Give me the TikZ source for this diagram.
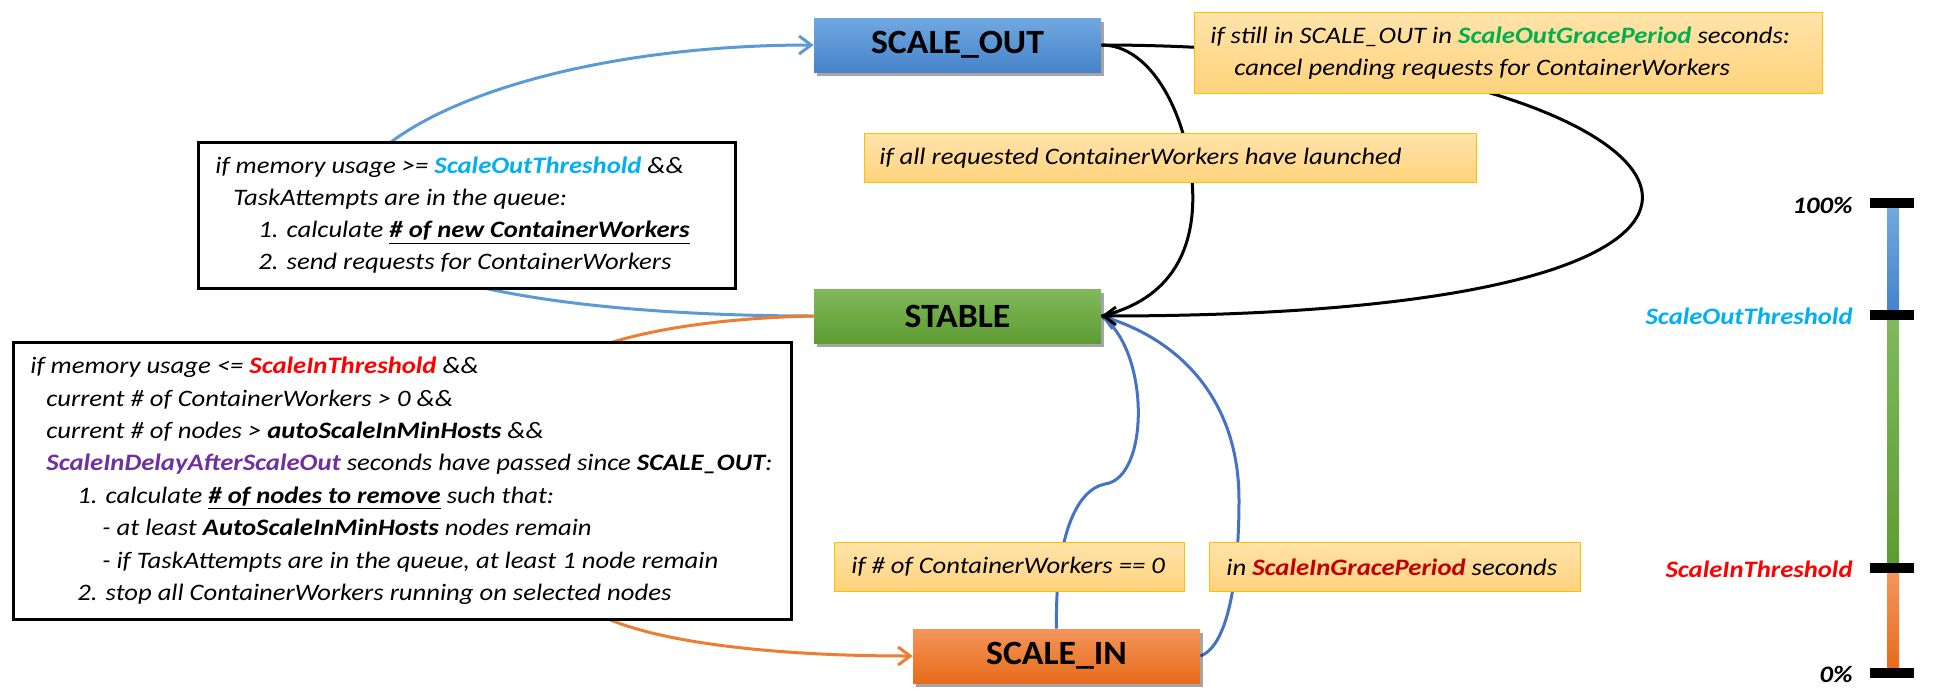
\documentclass[tikz,border=0pt]{standalone}
\usepackage{fontspec}
\setmainfont{Carlito}[FakeStretch=1.13]
\newfontfamily\statefont{Carlito}[FakeStretch=1.05]
\usetikzlibrary{arrows.meta,shadows,backgrounds}
\definecolor{soTop}{HTML}{70A8E0}
\definecolor{soBot}{HTML}{4683CA}
\definecolor{stTop}{HTML}{80B85B}
\definecolor{stBot}{HTML}{5E9C33}
\definecolor{siTop}{HTML}{F4955A}
\definecolor{siBot}{HTML}{E66C1A}
\definecolor{noteTop}{HTML}{FFE3AA}
\definecolor{noteBot}{HTML}{FFD37C}
\definecolor{noteLine}{HTML}{FFC000}
\definecolor{blueA}{HTML}{5B9BD5}
\definecolor{blueB}{HTML}{4472C4}
\definecolor{orangeC}{HTML}{ED7D31}
\definecolor{cOut}{HTML}{00B0F0}
\definecolor{cIn}{HTML}{FF0000}
\definecolor{cDelay}{HTML}{7030A0}
\definecolor{cGrace}{HTML}{00B050}
\definecolor{cGraceIn}{HTML}{C00000}
\begin{document}
\begin{tikzpicture}[x=0.5pt,y=-0.5pt,
  stbox/.style={minimum width=143.5pt,minimum height=27pt,inner sep=0pt,
    font=\statefont\fontsize{17}{20}\selectfont\bfseries,
    drop shadow={shadow xshift=1.5pt,shadow yshift=-2pt,opacity=0.35,fill=black}},
  condbox/.style={draw=black,line width=1.3pt,fill=white,anchor=north west,inner sep=0pt},
  notebox/.style={draw=noteLine,line width=0.6pt,top color=noteTop,bottom color=noteBot,anchor=north west,inner sep=0pt},
  txt/.style={font=\fontsize{11.8}{16}\selectfont\itshape,align=left,anchor=west,inner sep=0pt},
  lbl/.style={font=\fontsize{11.8}{14}\selectfont\bfseries\itshape,anchor=base east,inner sep=0pt},
  line/.style={line width=1.5pt},
  conn/.style={line width=1.5pt,-{Straight Barb[length=6pt,width=9pt]}},
]
\useasboundingbox (0,0) rectangle (1934,697);

% state boxes
\node[stbox,top color=soTop,bottom color=soBot] (so) at (957.5,45) {SCALE\_OUT};
\node[stbox,top color=stTop,bottom color=stBot] (st) at (957.5,316) {STABLE};
\node[stbox,top color=siTop,bottom color=siBot] (si) at (1056.5,656) {SCALE\_IN};

% condition boxes
\node[condbox,minimum width=268.5pt,minimum height=73pt] (c1) at (197,141) {};
\node[txt] (c1t) at ([xshift=9pt]c1.west) {if memory usage >= {\bfseries\color{cOut}ScaleOutThreshold} \&\&\\
\hspace*{9pt}TaskAttempts are in the queue:\\
\hspace*{21.5pt}1. calculate \underline{\bfseries \# of new ContainerWorkers}\\
\hspace*{21.5pt}2. send requests for ContainerWorkers};

\node[condbox,minimum width=389pt,minimum height=138.5pt] (c2) at (12,341) {};
\node[txt,font=\fontsize{11.8}{16.2}\selectfont\itshape] (c2t) at ([xshift=9pt]c2.west) {if memory usage <= {\bfseries\color{cIn}ScaleInThreshold} \&\&\\
\hspace*{8pt}current \# of ContainerWorkers > 0 \&\&\\
\hspace*{8pt}current \# of nodes > {\bfseries autoScaleInMinHosts} \&\&\\
\hspace*{8pt}{\bfseries\color{cDelay}ScaleInDelayAfterScaleOut} seconds have passed since {\bfseries SCALE\_OUT}:\\
\hspace*{23.5pt}1. calculate \underline{\bfseries \# of nodes to remove} such that:\\
\hspace*{36pt}- at least {\bfseries AutoScaleInMinHosts} nodes remain\\
\hspace*{36pt}- if TaskAttempts are in the queue, at least 1 node remain\\
\hspace*{23.5pt}2. stop all ContainerWorkers running on selected nodes};

% notes
\node[notebox,minimum width=314pt,minimum height=40.5pt] (n1) at (1194,12) {};
\node[txt] (n1t) at ([xshift=8pt]n1.west) {if still in SCALE\_OUT in {\bfseries\color{cGrace}ScaleOutGracePeriod} seconds:\\
\hspace*{12pt}cancel pending requests for ContainerWorkers};
\node[notebox,minimum width=306pt,minimum height=24.5pt] (n2) at (864,133) {};
\node[txt] (n2t) at ([xshift=7.5pt]n2.west) {if all requested ContainerWorkers have launched};
\node[notebox,minimum width=175pt,minimum height=24.5pt] (n3) at (834,542) {};
\node[txt] (n3t) at ([xshift=8.5pt]n3.west) {if \# of ContainerWorkers == 0};
\node[notebox,minimum width=185.5pt,minimum height=24.5pt] (n4) at (1209,542) {};
\node[txt] (n4t) at ([xshift=8.5pt]n4.west) {in {\bfseries\color{cGraceIn}ScaleInGracePeriod} seconds};

% scale bar
\shade[top color=soTop,bottom color=soBot] (1887,208) rectangle (1899,310);
\shade[top color=stTop,bottom color=stBot] (1887,320) rectangle (1899,563);
\shade[top color=siTop,bottom color=siBot] (1887,573) rectangle (1899,668);
\fill[black] (1870,198) rectangle (1914,208);
\fill[black] (1870,310) rectangle (1914,320);
\fill[black] (1870,563) rectangle (1914,573);
\fill[black] (1870,668) rectangle (1914,678);
\node[lbl] (l100) at (1853,213) {100\%};
\node[lbl,text=cOut] (lso) at (1853,324) {ScaleOutThreshold};
\node[lbl,text=cIn] (lsi) at (1853,577) {ScaleInThreshold};
\node[lbl] (l0) at (1853,682) {0\%};

% connectors
\begin{scope}[on background layer]
\draw[conn,draw=blueA] (st.west) .. controls (650,316) and (400,300) .. (340,220)
   .. controls (345,120) and (560,45) .. (so.west);
\draw[conn,draw=orangeC] (st.west) .. controls (720,318) and (640,330) .. (590,350)
   -- (590,610) .. controls (640,640) and (760,656) .. (si.west);
\draw[line,draw=blueB] (si.north) .. controls (1055,540) and (1075,490) .. (1105,484)
   .. controls (1150,478) and (1150,350) .. (st.east);
\draw[conn,draw=blueB] (si.east) .. controls (1230,645) and (1239,570) .. (1239,500)
   .. controls (1239,400) and (1180,340) .. (st.east);
\draw[line,draw=black] (so.east) .. controls (1150,45) and (1185,110) .. (1192,180)
   .. controls (1198,250) and (1170,300) .. (st.east);
\draw[conn,draw=black] (so.east) .. controls (1698,45) and (1936,316) .. (st.east);
\end{scope}
\end{tikzpicture}
\end{document}
